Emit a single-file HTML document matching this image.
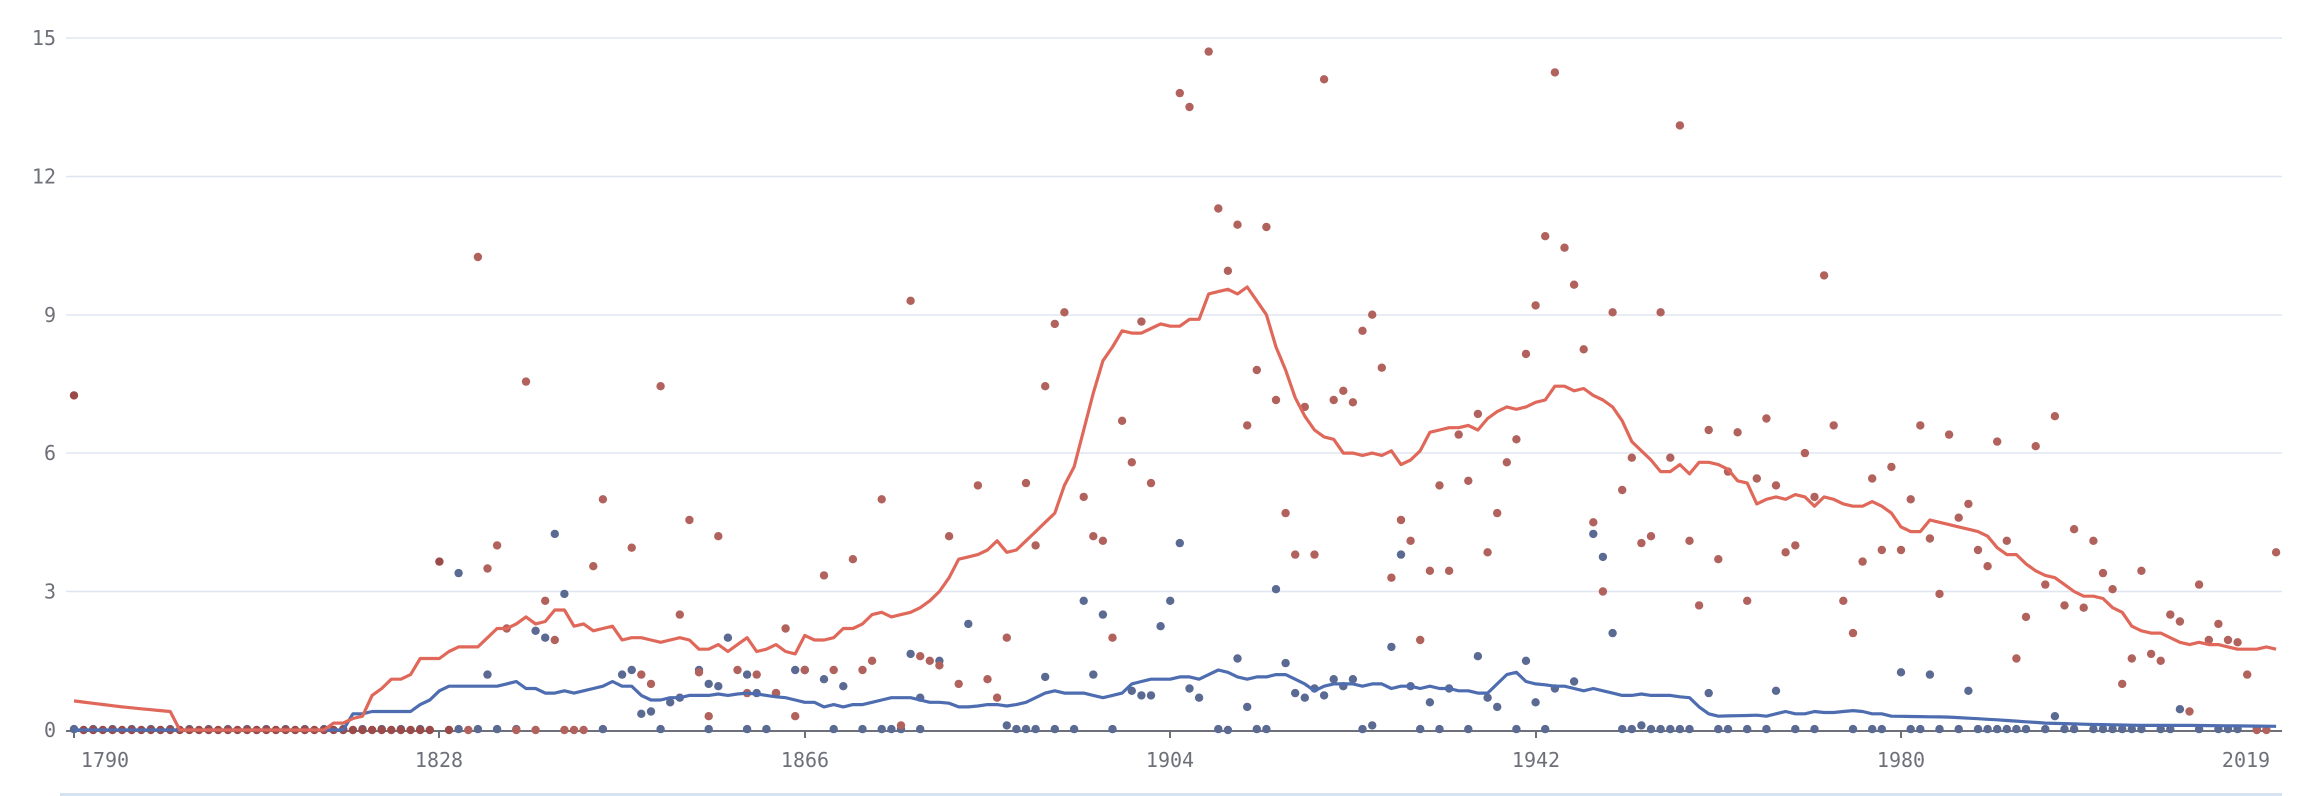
<!DOCTYPE html>
<html><head><meta charset="utf-8">
<style>
html,body{margin:0;padding:0;background:#fff;}
svg{display:block;}
text{font-family:"DejaVu Sans Mono","Liberation Mono",monospace;fill:#6e7079;font-size:20px;}
</style></head>
<body>
<svg id="c" width="2298" height="796" xmlns="http://www.w3.org/2000/svg">
<g id="grid" stroke="#e0e6f1" stroke-width="1.5">
<line x1="66" x2="2282" y1="38" y2="38"/>
<line x1="66" x2="2282" y1="176.5" y2="176.5"/>
<line x1="66" x2="2282" y1="315" y2="315"/>
<line x1="66" x2="2282" y1="453" y2="453"/>
<line x1="66" x2="2282" y1="591.5" y2="591.5"/>
</g>
<g text-anchor="end" dominant-baseline="central">
<text x="56" y="38">15</text>
<text x="56" y="176.5">12</text>
<text x="56" y="315">9</text>
<text x="56" y="453">6</text>
<text x="56" y="591.5">3</text>
<text x="56" y="730">0</text>
</g>
<line x1="66" x2="2282" y1="731" y2="731" stroke="#6e7079" stroke-width="2"/>
<g stroke="#6e7079" stroke-width="2">
<line x1="74" x2="74" y1="731" y2="738"/>
<line x1="439" x2="439" y1="731" y2="738"/>
<line x1="805" x2="805" y1="731" y2="738"/>
<line x1="1170" x2="1170" y1="731" y2="738"/>
<line x1="1536" x2="1536" y1="731" y2="738"/>
<line x1="1901" x2="1901" y1="731" y2="738"/>
</g>
<g text-anchor="middle">
<text x="105" y="767">1790</text>
<text x="439" y="767">1828</text>
<text x="805" y="767">1866</text>
<text x="1170" y="767">1904</text>
<text x="1536" y="767">1942</text>
<text x="1901" y="767">1980</text>
<text x="2246" y="767">2019</text>
</g>
<rect x="60" y="793" width="2222" height="3" fill="#d5e3f0"/>
<g id="dots"></g>
<g id="lines"></g>
</svg>
<script>
var X=function(y){return 74+(y-1790)*9.616;};
var Y=function(v){return 730-v*46.15;};
var red={1790:.63,1795:.5,1800:.4,1801:0,1816:0,1817:.15,1818:.15,1819:.25,1820:.3,1821:.75,1822:.9,1823:1.1,1824:1.1,1825:1.2,1826:1.55,1828:1.55,1829:1.7,1830:1.8,1832:1.8,1833:2,1834:2.2,1835:2.2,1836:2.3,1837:2.45,1838:2.3,1839:2.35,1840:2.6,1841:2.6,1842:2.25,1843:2.3,1844:2.15,1845:2.2,1846:2.25,1847:1.95,1848:2,1849:2,1850:1.95,1851:1.9,1852:1.95,1853:2,1854:1.95,1855:1.75,1856:1.75,1857:1.85,1858:1.7,1859:1.85,1860:2,1861:1.7,1862:1.75,1863:1.85,1864:1.7,1865:1.65,1866:2.05,1867:1.95,1868:1.95,1869:2,1870:2.2,1871:2.2,1872:2.3,1873:2.5,1874:2.55,1875:2.45,1876:2.5,1877:2.55,1878:2.65,1879:2.8,1880:3,1881:3.3,1882:3.7,1883:3.75,1884:3.8,1885:3.9,1886:4.1,1887:3.85,1888:3.9,1889:4.1,1890:4.3,1891:4.5,1892:4.7,1893:5.3,1894:5.7,1895:6.5,1896:7.3,1897:8,1898:8.3,1899:8.65,1900:8.6,1901:8.6,1902:8.7,1903:8.8,1904:8.75,1905:8.75,1906:8.9,1907:8.9,1908:9.45,1909:9.5,1910:9.55,1911:9.45,1912:9.6,1913:9.3,1914:9,1915:8.3,1916:7.8,1917:7.2,1918:6.8,1919:6.5,1920:6.35,1921:6.3,1922:6,1923:6,1924:5.95,1925:6,1926:5.95,1927:6.05,1928:5.75,1929:5.85,1930:6.05,1931:6.45,1932:6.5,1933:6.55,1934:6.55,1935:6.6,1936:6.5,1937:6.75,1938:6.9,1939:7,1940:6.95,1941:7,1942:7.1,1943:7.15,1944:7.45,1945:7.45,1946:7.35,1947:7.4,1948:7.25,1949:7.15,1950:7,1951:6.7,1952:6.25,1953:6.05,1954:5.85,1955:5.6,1956:5.6,1957:5.75,1958:5.55,1959:5.8,1960:5.8,1961:5.75,1962:5.65,1963:5.4,1964:5.35,1965:4.9,1966:5,1967:5.05,1968:5,1969:5.1,1970:5.05,1971:4.85,1972:5.05,1973:5,1974:4.9,1975:4.85,1976:4.85,1977:4.95,1978:4.85,1979:4.7,1980:4.4,1981:4.3,1982:4.3,1983:4.55,1984:4.5,1985:4.45,1986:4.4,1987:4.35,1988:4.3,1989:4.2,1990:3.95,1991:3.8,1992:3.8,1993:3.6,1994:3.45,1995:3.35,1996:3.3,1997:3.15,1998:3,1999:2.9,2000:2.9,2001:2.85,2002:2.65,2003:2.55,2004:2.25,2005:2.15,2006:2.1,2007:2.1,2008:2,2009:1.9,2010:1.85,2011:1.9,2012:1.85,2013:1.85,2014:1.8,2015:1.75,2016:1.75,2017:1.75,2018:1.8,2019:1.75};
var blue={1790:0,1818:0,1819:.35,1820:.35,1821:.4,1825:.4,1826:.55,1827:.65,1828:.85,1829:.95,1834:.95,1835:1,1836:1.05,1837:.9,1838:.9,1839:.8,1840:.8,1841:.85,1842:.8,1843:.85,1844:.9,1845:.95,1846:1.05,1847:.95,1848:.95,1849:.75,1850:.65,1851:.65,1852:.7,1853:.7,1854:.75,1856:.75,1857:.78,1858:.75,1859:.78,1860:.8,1861:.78,1862:.75,1863:.72,1864:.7,1865:.65,1866:.6,1867:.6,1868:.5,1869:.55,1870:.5,1871:.55,1872:.55,1873:.6,1874:.65,1875:.7,1877:.7,1878:.65,1879:.6,1880:.6,1881:.58,1882:.5,1883:.5,1884:.52,1885:.55,1886:.55,1887:.52,1888:.55,1889:.6,1890:.7,1891:.8,1892:.85,1893:.8,1895:.8,1896:.75,1897:.7,1898:.75,1899:.8,1900:1,1901:1.05,1902:1.1,1904:1.1,1905:1.15,1906:1.15,1907:1.1,1908:1.2,1909:1.3,1910:1.25,1911:1.15,1912:1.1,1913:1.15,1914:1.15,1915:1.2,1916:1.2,1917:1.1,1918:1,1919:.85,1920:.95,1921:1,1923:1,1924:.95,1925:1,1926:1,1927:.9,1928:.95,1929:.95,1930:.9,1931:.95,1932:.9,1933:.9,1934:.85,1935:.85,1936:.8,1937:.8,1938:1,1939:1.2,1940:1.25,1941:1.05,1942:1,1943:.98,1944:.95,1945:.95,1946:.9,1947:.85,1948:.9,1949:.85,1950:.8,1951:.75,1952:.75,1953:.78,1954:.75,1956:.75,1957:.72,1958:.7,1959:.5,1960:.35,1961:.3,1965:.32,1966:.3,1967:.35,1968:.4,1969:.35,1970:.35,1971:.4,1972:.38,1973:.38,1974:.4,1975:.42,1976:.4,1977:.35,1978:.35,1979:.3,1985:.28,1990:.22,1995:.15,2000:.12,2005:.1,2010:.1,2019:.08};
function interp(o){var ks=Object.keys(o).map(Number).sort(function(a,b){return a-b});var pts=[];for(var y=1790;y<=2019;y++){var v;if(o[y]!==undefined)v=o[y];else{var a=ks[0],b=ks[ks.length-1];for(var i=0;i<ks.length;i++){if(ks[i]<y)a=ks[i];if(ks[i]>y){b=ks[i];break;}}v=o[a]+(o[b]-o[a])*(y-a)/(b-a);}
if(o===red&&y>1800&&y<1817)v=0;pts.push(X(y).toFixed(1)+","+Y(v).toFixed(1));}return pts.join(" ");}
var rd=[[1790,7.25],[1828,3.65],[1832,10.25],[1833,3.5],[1834,4],[1837,7.55],[1835,2.2],[1840,1.95],[1839,2.8],[1844,3.55],[1845,5],[1848,3.95],[1851,7.45],[1853,2.5],[1854,4.55],[1857,4.2],[1855,1.25],[1849,1.2],[1850,1],[1856,0.3],[1859,1.3],[1860,0.8],[1861,1.2],[1863,0.8],[1864,2.2],[1865,0.3],[1866,1.3],[1868,3.35],[1869,1.3],[1871,3.7],[1872,1.3],[1873,1.5],[1874,5],[1876,0.1],[1877,9.3],[1878,1.6],[1879,1.5],[1880,1.4],[1881,4.2],[1882,1],[1884,5.3],[1885,1.1],[1886,0.7],[1887,2.0],[1889,5.35],[1890,4.0],[1891,7.45],[1892,8.8],[1893,9.05],[1895,5.05],[1896,4.2],[1897,4.1],[1898,2],[1899,6.7],[1900,5.8],[1901,8.85],[1902,5.35],[1905,13.8],[1906,13.5],[1908,14.7],[1909,11.3],[1910,9.95],[1911,10.95],[1912,6.6],[1913,7.8],[1914,10.9],[1915,7.15],[1916,4.7],[1917,3.8],[1918,7],[1919,3.8],[1920,14.1],[1921,7.15],[1922,7.35],[1923,7.1],[1924,8.65],[1925,9],[1926,7.85],[1927,3.3],[1928,4.55],[1929,4.1],[1930,1.95],[1931,3.45],[1932,5.3],[1933,3.45],[1934,6.4],[1935,5.4],[1936,6.85],[1937,3.85],[1938,4.7],[1939,5.8],[1940,6.3],[1941,8.15],[1942,9.2],[1943,10.7],[1944,14.25],[1945,10.45],[1946,9.65],[1947,8.25],[1948,4.5],[1949,3],[1950,9.05],[1951,5.2],[1952,5.9],[1953,4.05],[1954,4.2],[1955,9.05],[1956,5.9],[1957,13.1],[1958,4.1],[1959,2.7],[1960,6.5],[1961,3.7],[1962,5.6],[1963,6.45],[1964,2.8],[1965,5.45],[1966,6.75],[1967,5.3],[1968,3.85],[1969,4],[1970,6],[1971,5.05],[1972,9.85],[1973,6.6],[1974,2.8],[1975,2.1],[1976,3.65],[1977,5.45],[1978,3.9],[1979,5.7],[1980,3.9],[1981,5],[1982,6.6],[1983,4.15],[1984,2.95],[1985,6.4],[1986,4.6],[1987,4.9],[1988,3.9],[1989,3.55],[1990,6.25],[1991,4.1],[1992,1.55],[1993,2.45],[1994,6.15],[1995,3.15],[1996,6.8],[1997,2.7],[1998,4.35],[1999,2.65],[2000,4.1],[2001,3.4],[2002,3.05],[2003,1],[2004,1.55],[2005,3.45],[2006,1.65],[2007,1.5],[2008,2.5],[2009,2.35],[2010,0.4],[2011,3.15],[2012,1.95],[2013,2.3],[2014,1.95],[2015,1.9],[2016,1.2],[2017,0],[2018,0],[2019,3.85]];
for(var y=1791;y<=1827;y++)rd.push([y,0]);[1829,1831,1836,1838,1841,1842,1843].forEach(function(y){rd.push([y,0]);});
var bd=[[1830,3.4],[1833,1.2],[1838,2.15],[1839,2.0],[1840,4.25],[1841,2.95],[1847,1.2],[1848,1.3],[1849,0.35],[1850,0.4],[1852,0.6],[1853,0.7],[1855,1.3],[1856,1.0],[1857,0.95],[1858,2.0],[1860,1.2],[1861,0.8],[1863,0.8],[1865,1.3],[1866,1.3],[1868,1.1],[1870,0.95],[1877,1.65],[1878,0.7],[1880,1.5],[1883,2.3],[1887,0.1],[1891,1.15],[1895,2.8],[1896,1.2],[1897,2.5],[1900,0.85],[1901,0.75],[1902,0.75],[1903,2.25],[1904,2.8],[1905,4.05],[1906,0.9],[1907,0.7],[1910,0],[1911,1.55],[1912,0.5],[1915,3.05],[1916,1.45],[1917,0.8],[1918,0.7],[1919,0.9],[1920,0.75],[1921,1.1],[1922,0.95],[1923,1.1],[1925,0.1],[1927,1.8],[1928,3.8],[1929,0.95],[1931,0.6],[1933,0.9],[1936,1.6],[1937,0.7],[1938,0.5],[1941,1.5],[1942,0.6],[1944,0.9],[1946,1.05],[1948,4.25],[1949,3.75],[1950,2.1],[1953,0.1],[1960,0.8],[1967,0.85],[1980,1.25],[1983,1.2],[1987,0.85],[1996,0.3],[2009,0.45]];
[1790,1792,1794,1796,1798,1800,1802,1804,1806,1808,1810,1812,1814,1816,1818,1820,1822,1824,1826,1830,1832,1834,1836,1845,1851,1856,1860,1862,1869,1872,1874,1875,1876,1878,1888,1889,1890,1892,1894,1898,1909,1913,1914,1924,1930,1932,1935,1940,1943,1951,1952,1954,1955,1956,1957,1958,1961,1962,1964,1966,1969,1971,1975,1977,1978,1981,1982,1984,1986,1988,1989,1990,1991,1992,1993,1995,1997,1998,2000,2001,2002,2003,2004,2005,2007,2008,2011,2013,2014,2015,2017].forEach(function(y){bd.push([y,0.02]);});
var s="";
bd.forEach(function(p){s+='<circle cx="'+X(p[0]).toFixed(1)+'" cy="'+Y(p[1]).toFixed(1)+'" r="4.2" fill="#5b6a92"/>';});
rd.forEach(function(p){s+='<circle cx="'+X(p[0]).toFixed(1)+'" cy="'+Y(p[1]).toFixed(1)+'" r="4.2" fill="'+(p[0]<1830?'#9a4a48':'#b2625c')+'"/>';});
document.getElementById("dots").innerHTML=s;
document.getElementById("lines").innerHTML='<polyline fill="none" stroke="#4e6db0" stroke-width="3.2" stroke-linejoin="round" points="'+interp(blue)+'"/><polyline fill="none" stroke="#e0685a" stroke-width="3.2" stroke-linejoin="round" points="'+interp(red)+'"/>';
</script>
</body></html>
